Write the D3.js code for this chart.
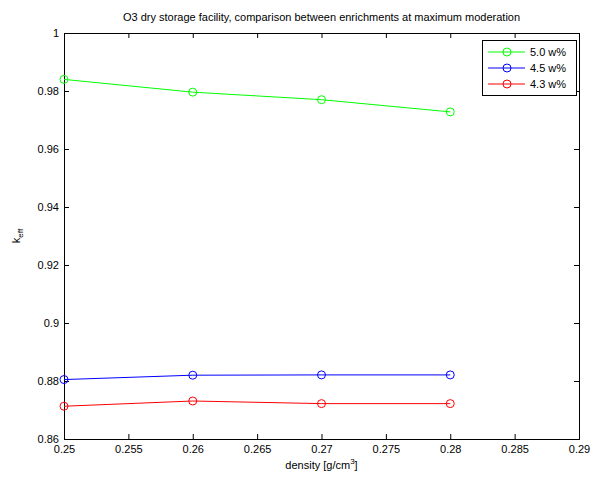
<!DOCTYPE html>
<html>
<head>
<meta charset="utf-8">
<script src="https://cdn.jsdelivr.net/npm/d3@7"></script>
<style>
  body { margin: 0; background: #fff; }
  svg { display: block; font-family: "Liberation Sans", Arial, sans-serif; }
</style>
</head>
<body>
<div id="chart"></div>
<script>
// Densities and k_eff per enrichment
const density = [0.25, 0.26, 0.27, 0.28];
const keff50 = [0.9840, 0.9796, 0.9770, 0.9728];
const keff45 = [0.8805, 0.8820, 0.8821, 0.8821];
const keff43 = [0.8713, 0.8731, 0.8722, 0.8722];
const seriesNames = ["5.0 w%", "4.5 w%", "4.3 w%"];
const seriesColors = ["#00ff00", "#0000ff", "#ff0000"];
const xTicks = [0.25, 0.255, 0.26, 0.265, 0.27, 0.275, 0.28, 0.285, 0.29];
const yTicks = [0.86, 0.88, 0.9, 0.92, 0.94, 0.96, 0.98, 1];
const titleText = "O3 dry storage facility, comparison between enrichments at maximum moderation";

const W = 594, H = 484;
const m = { left: 64, right: 15, top: 33, bottom: 45 };
const svg = d3.select("#chart").append("svg").attr("width", W).attr("height", H);

const x = d3.scaleLinear().domain([0.25, 0.29]).range([m.left, W - m.right]);
const y = d3.scaleLinear().domain([0.86, 1]).range([H - m.bottom, m.top]);

const tickLen = 5;
const fmtX = d => String(+d.toFixed(3));
const fmtY = d => String(+d.toFixed(2));

// Axes with inward ticks on all four sides
const gx = svg.append("g").attr("transform", `translate(0,${y(0.86)})`)
  .call(d3.axisBottom(x).tickValues(xTicks).tickSize(-tickLen).tickPadding(6).tickFormat(fmtX));
const gxt = svg.append("g").attr("transform", `translate(0,${y(1)})`)
  .call(d3.axisTop(x).tickValues(xTicks).tickSize(-tickLen).tickFormat(""));
const gy = svg.append("g").attr("transform", `translate(${x(0.25)},0)`)
  .call(d3.axisLeft(y).tickValues(yTicks).tickSize(-tickLen).tickPadding(5).tickFormat(fmtY));
const gyr = svg.append("g").attr("transform", `translate(${x(0.29)},0)`)
  .call(d3.axisRight(y).tickValues(yTicks).tickSize(-tickLen).tickFormat(""));

[gx, gxt, gy, gyr].forEach(g => {
  g.select(".domain").attr("stroke", "#000").attr("stroke-width", 1);
  g.selectAll(".tick line").attr("stroke", "#000");
  g.selectAll(".tick text").attr("fill", "#000").attr("font-size", 11)
    .attr("font-family", "'Liberation Sans', Arial, sans-serif");
});

// Series
const allSeries = [keff50, keff45, keff43];
const line = d3.line().x(d => x(d[0])).y(d => y(d[1]));
allSeries.forEach((vals, i) => {
  const pts = density.map((d, j) => [d, vals[j]]);
  svg.append("path").datum(pts).attr("d", line)
    .attr("fill", "none").attr("stroke", seriesColors[i]).attr("stroke-width", 1);
  svg.append("g").selectAll("circle").data(pts).join("circle")
    .attr("cx", d => x(d[0])).attr("cy", d => y(d[1])).attr("r", 4)
    .attr("fill", "none").attr("stroke", seriesColors[i]).attr("stroke-width", 1);
});

// Legend
const lg = svg.append("g").attr("transform", "translate(482,40)");
lg.append("rect").attr("x", 0.5).attr("y", 0.5).attr("width", 94).attr("height", 55)
  .attr("fill", "#fff").attr("stroke", "#000");
seriesNames.forEach((name, i) => {
  const yy = 12 + i * 16;
  lg.append("line").attr("x1", 6).attr("x2", 43).attr("y1", yy).attr("y2", yy)
    .attr("stroke", seriesColors[i]);
  lg.append("circle").attr("cx", 25).attr("cy", yy).attr("r", 4)
    .attr("fill", "none").attr("stroke", seriesColors[i]);
  lg.append("text").attr("x", 48).attr("y", yy + 4).attr("font-size", 11)
    .attr("fill", "#000").text(name);
});

// Title and axis labels
svg.append("text").attr("x", (x(0.25) + x(0.29)) / 2).attr("y", 21)
  .attr("text-anchor", "middle").attr("font-size", 11).attr("fill", "#000").text(titleText);

const xl = svg.append("text").attr("x", (x(0.25) + x(0.29)) / 2).attr("y", 469)
  .attr("text-anchor", "middle").attr("font-size", 11).attr("fill", "#000");
xl.append("tspan").text("density [g/cm");
xl.append("tspan").attr("dy", -5).attr("font-size", 8).text("3");
xl.append("tspan").attr("dy", 5).text("]");

const yl = svg.append("text").attr("transform", `translate(20,${(y(0.86) + y(1)) / 2}) rotate(-90)`)
  .attr("text-anchor", "middle").attr("font-size", 11).attr("fill", "#000");
yl.append("tspan").text("k");
yl.append("tspan").attr("dy", 3).attr("font-size", 8).text("eff");
</script>
</body>
</html>
